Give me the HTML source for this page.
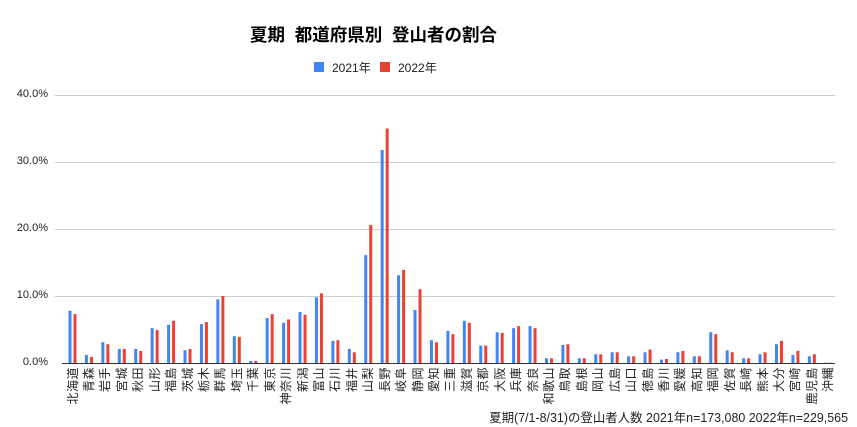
<!DOCTYPE html>
<html><head><meta charset="utf-8"><style>
body{margin:0;background:#fff;width:857px;height:427px;position:relative;overflow:hidden;font-family:"Liberation Sans","Noto Sans CJK JP",sans-serif}
.t{position:absolute;white-space:nowrap}
.lab{position:absolute;top:367px;left:calc(66.5px + var(--i)*16.43px);font-size:12px;line-height:12px;height:12px;color:#222;white-space:nowrap;letter-spacing:0.5px;transform-origin:0 0;transform:rotate(-90deg) translateX(-100%)}
.yl{position:absolute;right:809px;font-size:11px;color:#222;text-align:right}
</style></head><body>
<div class="t" style="left:250px;top:22px;font-size:17.5px;font-weight:bold;color:#000;letter-spacing:0px">夏期&nbsp;&nbsp;都道府県別&nbsp;&nbsp;登山者の割合</div>
<div class="t" style="left:314px;top:62px;width:10px;height:10px;background:#4285F4"></div>
<div class="t" style="left:332px;top:59px;font-size:12px;color:#222">2021年</div>
<div class="t" style="left:380px;top:62px;width:10px;height:10px;background:#EA4335"></div>
<div class="t" style="left:398px;top:59px;font-size:12px;color:#222">2022年</div>
<div class="yl" style="top:88px">40.0%</div>
<div class="yl" style="top:155px">30.0%</div>
<div class="yl" style="top:222px">20.0%</div>
<div class="yl" style="top:289px">10.0%</div>
<div class="yl" style="top:356px">0.0%</div>
<svg id="s" width="857" height="427" style="position:absolute;left:0;top:0">
<g stroke="#ccc" stroke-width="1">
<line x1="55" y1="95.5" x2="835" y2="95.5"/><line x1="55" y1="162.5" x2="835" y2="162.5"/><line x1="55" y1="229.5" x2="835" y2="229.5"/><line x1="55" y1="296.5" x2="835" y2="296.5"/>
</g>
<g id="bars"></g>
<line x1="62" y1="363.5" x2="835" y2="363.5" stroke="#333" stroke-width="1"/>
</svg>
<div class="lab" style="--i:0">北海道</div><div class="lab" style="--i:1">青森</div><div class="lab" style="--i:2">岩手</div><div class="lab" style="--i:3">宮城</div><div class="lab" style="--i:4">秋田</div><div class="lab" style="--i:5">山形</div><div class="lab" style="--i:6">福島</div><div class="lab" style="--i:7">茨城</div><div class="lab" style="--i:8">栃木</div><div class="lab" style="--i:9">群馬</div><div class="lab" style="--i:10">埼玉</div><div class="lab" style="--i:11">千葉</div><div class="lab" style="--i:12">東京</div><div class="lab" style="--i:13">神奈川</div><div class="lab" style="--i:14">新潟</div><div class="lab" style="--i:15">富山</div><div class="lab" style="--i:16">石川</div><div class="lab" style="--i:17">福井</div><div class="lab" style="--i:18">山梨</div><div class="lab" style="--i:19">長野</div><div class="lab" style="--i:20">岐阜</div><div class="lab" style="--i:21">静岡</div><div class="lab" style="--i:22">愛知</div><div class="lab" style="--i:23">三重</div><div class="lab" style="--i:24">滋賀</div><div class="lab" style="--i:25">京都</div><div class="lab" style="--i:26">大阪</div><div class="lab" style="--i:27">兵庫</div><div class="lab" style="--i:28">奈良</div><div class="lab" style="--i:29">和歌山</div><div class="lab" style="--i:30">鳥取</div><div class="lab" style="--i:31">島根</div><div class="lab" style="--i:32">岡山</div><div class="lab" style="--i:33">広島</div><div class="lab" style="--i:34">山口</div><div class="lab" style="--i:35">徳島</div><div class="lab" style="--i:36">香川</div><div class="lab" style="--i:37">愛媛</div><div class="lab" style="--i:38">高知</div><div class="lab" style="--i:39">福岡</div><div class="lab" style="--i:40">佐賀</div><div class="lab" style="--i:41">長崎</div><div class="lab" style="--i:42">熊本</div><div class="lab" style="--i:43">大分</div><div class="lab" style="--i:44">宮崎</div><div class="lab" style="--i:45">鹿児島</div><div class="lab" style="--i:46">沖縄</div>
<div class="t" style="right:9px;top:408px;font-size:12.45px;color:#222">夏期(7/1-8/31)の登山者人数 2021年n=173,080 2022年n=229,565</div>
<script>
var a=[7.8,1.2,3.1,2.1,2.1,5.2,5.7,1.9,5.8,9.5,4.0,0.3,6.7,6.0,7.6,9.8,3.3,2.1,16.1,31.8,13.1,7.9,3.4,4.8,6.3,2.6,4.6,5.2,5.5,0.7,2.7,0.7,1.3,1.6,1.0,1.6,0.5,1.6,1.0,4.6,1.9,0.7,1.3,2.8,1.2,1.0,0.05];
var b=[7.3,0.9,2.8,2.1,1.8,4.9,6.3,2.1,6.1,10.0,3.9,0.3,7.3,6.5,7.2,10.4,3.4,1.6,20.6,35.0,13.9,11.0,3.1,4.3,6.0,2.6,4.5,5.5,5.2,0.7,2.8,0.7,1.3,1.6,1.0,2.0,0.6,1.8,1.0,4.3,1.6,0.7,1.6,3.3,1.8,1.3,0.05];
var g=document.getElementById('bars'),h='';
for(var i=0;i<47;i++){var c=72.5+16.43*i;
var ha=a[i]*6.7,hb=b[i]*6.7;
h+='<rect x="'+(c-4)+'" y="'+(363-ha)+'" width="3" height="'+ha+'" fill="#4285F4"/>';
h+='<rect x="'+(c+1)+'" y="'+(363-hb)+'" width="3" height="'+hb+'" fill="#EA4335"/>';}
g.innerHTML=h;
</script>
</body></html>
